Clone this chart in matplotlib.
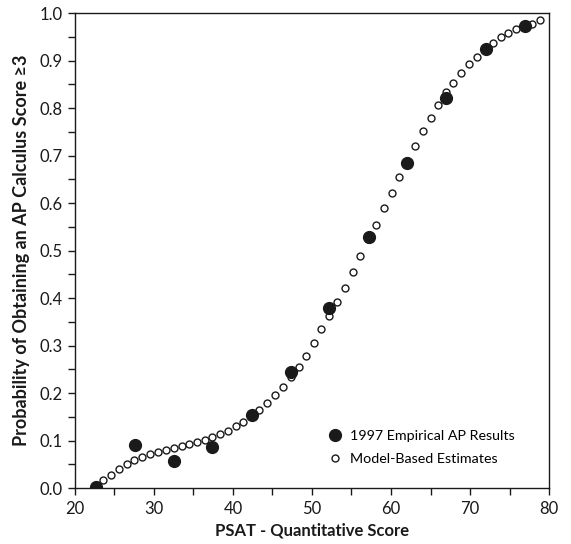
import matplotlib.pyplot as plt
from matplotlib.ticker import MultipleLocator

# 1997 empirical AP results (filled)
emp_x = [22.6, 27.6, 32.5, 37.4, 42.4, 47.3, 52.2, 57.2, 62.0, 67.0, 72.0, 76.9]
emp_y = [0.003, 0.090, 0.057, 0.087, 0.154, 0.245, 0.380, 0.529, 0.684, 0.822, 0.924, 0.973]

# model-based estimates (open)
mod_x = [23.6, 24.6, 25.6, 26.6, 27.5, 28.5, 29.5, 30.5, 31.5, 32.5,
         33.5, 34.4, 35.4, 36.4, 37.4, 38.4, 39.4, 40.4, 41.3, 42.3,
         43.3, 44.3, 45.3, 46.3, 47.3, 48.3, 49.2, 50.2, 51.2, 52.2,
         53.2, 54.2, 55.2, 56.1, 57.1, 58.1, 59.1, 60.1, 61.0, 62.0,
         63.0, 64.0, 65.0, 65.9, 66.9, 67.9, 68.9, 69.9, 70.9, 71.9,
         72.9, 73.9, 74.8, 75.8, 76.9, 77.8, 78.8]
mod_y = [0.016, 0.028, 0.041, 0.051, 0.058, 0.065, 0.071, 0.075, 0.080, 0.084,
         0.088, 0.093, 0.097, 0.101, 0.108, 0.114, 0.121, 0.130, 0.139, 0.152,
         0.164, 0.178, 0.195, 0.213, 0.234, 0.255, 0.279, 0.306, 0.334, 0.363,
         0.391, 0.422, 0.455, 0.488, 0.524, 0.554, 0.589, 0.622, 0.655, 0.689,
         0.721, 0.751, 0.778, 0.806, 0.833, 0.852, 0.874, 0.893, 0.908, 0.924,
         0.938, 0.949, 0.959, 0.966, 0.973, 0.978, 0.985]

plt.rcParams['font.family'] = ['Lato', 'DejaVu Sans']
ink = '#1a1a1a'

fig = plt.figure(figsize=(5.71, 5.44), dpi=100)
ax = fig.add_axes([0.1313, 0.1029, 0.8302, 0.8731])

# open circles first, filled dots drawn over them
ax.plot(mod_x, mod_y, 'o', markerfacecolor='white', markeredgecolor=ink,
        markeredgewidth=1.0, markersize=5, linestyle='none', zorder=3)
ax.plot(emp_x, emp_y, 'o', color=ink, markersize=8.5, linestyle='none', zorder=4)

# legend handles in the reference order
h1, = ax.plot([], [], 'o', color=ink, markersize=8.5, linestyle='none',
              label='1997 Empirical AP Results')
h2, = ax.plot([], [], 'o', markerfacecolor='white', markeredgecolor=ink,
              markeredgewidth=1.0, markersize=5, linestyle='none',
              label='Model-Based Estimates')

ax.set_xlim(20, 80)
ax.set_ylim(0, 1.0)
ax.xaxis.set_major_locator(MultipleLocator(10))
ax.xaxis.set_minor_locator(MultipleLocator(5))
ax.yaxis.set_major_locator(MultipleLocator(0.1))
ax.yaxis.set_minor_locator(MultipleLocator(0.05))
ax.yaxis.set_major_formatter(plt.FuncFormatter(lambda v, p: f'{v:.1f}'))
ax.tick_params(which='both', direction='out', length=5, width=1, color=ink,
               labelsize=12, labelcolor=ink, pad=4)

for s in ax.spines.values():
    s.set_color(ink)
    s.set_linewidth(1.0)

ax.set_xlabel('PSAT - Quantitative Score', fontsize=12, fontweight='bold',
              color=ink, labelpad=4)
ax.set_ylabel('Probability of Obtaining an AP Calculus Score \u22653', fontsize=13,
              fontweight='bold', color=ink, labelpad=7)

ax.legend(handles=[h1, h2], loc='lower left', bbox_to_anchor=(0.515, 0.036),
          frameon=False, fontsize=10.3, handletextpad=0.35, labelspacing=0.75,
          handlelength=1.4, borderaxespad=0.0)

fig.savefig('out.png', dpi=100)
